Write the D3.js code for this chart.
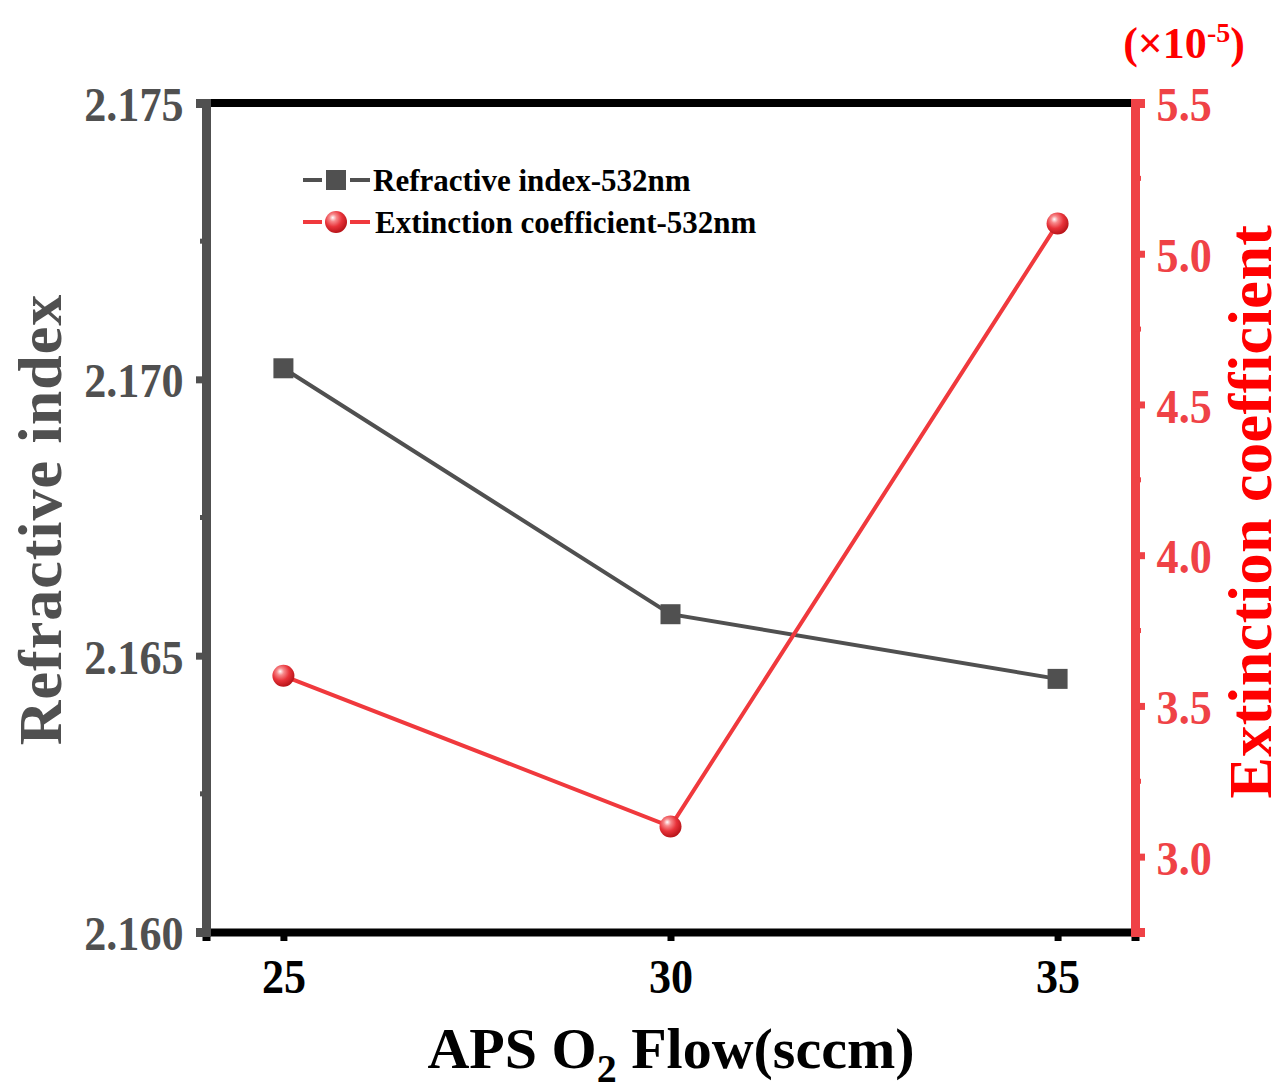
<!DOCTYPE html>
<html>
<head>
<meta charset="utf-8">
<script src="https://cdn.jsdelivr.net/npm/d3@7"></script>
<style>
  body { margin: 0; background: #fff; }
  svg { font-family: "Liberation Serif", "Times New Roman", serif; font-weight: bold; }
</style>
</head>
<body>
<svg width="1279" height="1086"></svg>
<script>
  const flows = [25, 30, 35];
  const refractive = [2.1702, 2.16575, 2.16458];
  const extinction = [3.6, 3.1, 5.1];
  const leftTicks = [2.160, 2.165, 2.170, 2.175];
  const leftMinor = [2.1625, 2.1675, 2.1725];
  const rightTicks = [3.0, 3.5, 4.0, 4.5, 5.0, 5.5];
  const rightMinor = [3.25, 3.75, 4.25, 4.75, 5.25];

  const svg = d3.select('svg');
  const margin = { top: 103, right: 144, bottom: 154, left: 206 };
  const width = +svg.attr('width');
  const height = +svg.attr('height');
  const innerWidth = width - margin.left - margin.right;
  const innerHeight = height - margin.top - margin.bottom;

  const gray = '#505050';
  const red = '#ef4246';
  const lineRed = '#f0393d';

  const xScale = d3.scaleLinear().domain([24, 36]).range([0, innerWidth]);
  const yLeft = d3.scaleLinear().domain([2.160, 2.175]).range([innerHeight, 0]);
  const yRight = d3.scaleLinear().domain([2.75, 5.5]).range([innerHeight, 0]);

  // sphere look for the red markers
  const defs = svg.append('defs');
  const grad = defs.append('radialGradient')
    .attr('id', 'ball')
    .attr('cx', '40%').attr('cy', '35%').attr('r', '65%')
    .attr('fx', '35%').attr('fy', '30%');
  grad.append('stop').attr('offset', '0%').attr('stop-color', '#ffffff');
  grad.append('stop').attr('offset', '25%').attr('stop-color', '#f7898b');
  grad.append('stop').attr('offset', '60%').attr('stop-color', '#e8333a');
  grad.append('stop').attr('offset', '100%').attr('stop-color', '#b81419');

  const g = svg.append('g')
    .attr('transform', `translate(${margin.left}, ${margin.top})`);

  // tick labels are tall and narrow in the original
  const styleTicks = (sel, color) => {
    sel.attr('font-family', 'Liberation Serif').attr('font-weight', 'bold');
    sel.selectAll('.tick text')
      .attr('fill', color)
      .attr('font-size', 49)
      .attr('transform', 'scale(0.9, 1)');
  };

  // top border
  g.append('line')
    .attr('x1', 0).attr('x2', innerWidth)
    .attr('y1', 0).attr('y2', 0)
    .attr('stroke', '#000').attr('stroke-width', 8);

  // x axis
  const xAxisG = g.append('g')
    .attr('transform', `translate(0, ${innerHeight})`)
    .call(d3.axisBottom(xScale).tickValues(flows).tickSize(9).tickPadding(17));
  xAxisG.select('.domain').attr('stroke', '#000').attr('stroke-width', 8);
  xAxisG.selectAll('.tick line').attr('stroke', '#000').attr('stroke-width', 7);
  styleTicks(xAxisG, '#000');
  xAxisG.selectAll('.tick text').attr('x', 0);

  // left axis
  const yLeftG = g.append('g')
    .call(d3.axisLeft(yLeft).tickValues(leftTicks).tickFormat(d3.format('.3f')).tickSize(10).tickPadding(15));
  yLeftG.select('.domain').attr('stroke', gray).attr('stroke-width', 9);
  yLeftG.selectAll('.tick line').attr('stroke', gray).attr('stroke-width', 7);
  styleTicks(yLeftG, gray);
  yLeftG.selectAll('.tick text').attr('dy', '0.36em');
  yLeftG.selectAll('.minor')
    .data(leftMinor)
    .enter().append('line')
    .attr('x1', -6).attr('x2', 0)
    .attr('y1', d => yLeft(d)).attr('y2', d => yLeft(d))
    .attr('stroke', gray).attr('stroke-width', 5);

  // right axis
  const yRightG = g.append('g')
    .attr('transform', `translate(${innerWidth}, 0)`)
    .call(d3.axisRight(yRight).tickValues(rightTicks).tickFormat(d3.format('.1f')).tickSize(10).tickPadding(14));
  yRightG.select('.domain').attr('stroke', red).attr('stroke-width', 9);
  yRightG.selectAll('.tick line').attr('stroke', red).attr('stroke-width', 7);
  styleTicks(yRightG, red);
  yRightG.selectAll('.tick text').attr('dy', '0.36em');
  yRightG.selectAll('.minor')
    .data(rightMinor)
    .enter().append('line')
    .attr('x1', 0).attr('x2', 6)
    .attr('y1', d => yRight(d)).attr('y2', d => yRight(d))
    .attr('stroke', red).attr('stroke-width', 5);

  // series
  const refData = flows.map((f, i) => ({ x: f, y: refractive[i] }));
  const extData = flows.map((f, i) => ({ x: f, y: extinction[i] }));

  g.append('path')
    .datum(refData)
    .attr('fill', 'none').attr('stroke', gray).attr('stroke-width', 4)
    .attr('d', d3.line().x(d => xScale(d.x)).y(d => yLeft(d.y)));

  g.append('path')
    .datum(extData)
    .attr('fill', 'none').attr('stroke', lineRed).attr('stroke-width', 4)
    .attr('d', d3.line().x(d => xScale(d.x)).y(d => yRight(d.y)));

  g.selectAll('.sq').data(refData)
    .enter().append('rect')
    .attr('x', d => xScale(d.x) - 10).attr('y', d => yLeft(d.y) - 10)
    .attr('width', 20).attr('height', 20)
    .attr('fill', gray);

  g.selectAll('.ball').data(extData)
    .enter().append('circle')
    .attr('cx', d => xScale(d.x)).attr('cy', d => yRight(d.y))
    .attr('r', 11)
    .attr('fill', 'url(#ball)');

  // legend: line - marker - line with small gaps
  const leg1 = svg.append('g').attr('transform', 'translate(303, 180)');
  leg1.append('line').attr('x1', 0).attr('x2', 19).attr('y1', 0).attr('y2', 0)
    .attr('stroke', gray).attr('stroke-width', 4);
  leg1.append('line').attr('x1', 47).attr('x2', 67).attr('y1', 0).attr('y2', 0)
    .attr('stroke', gray).attr('stroke-width', 4);
  leg1.append('rect').attr('x', 23).attr('y', -10).attr('width', 20).attr('height', 20).attr('fill', gray);
  leg1.append('text').attr('x', 70).attr('y', 0).attr('dy', '0.35em')
    .attr('font-size', 31).attr('fill', '#000').text('Refractive index-532nm');

  const leg2 = svg.append('g').attr('transform', 'translate(303, 222)');
  leg2.append('line').attr('x1', 0).attr('x2', 19).attr('y1', 0).attr('y2', 0)
    .attr('stroke', lineRed).attr('stroke-width', 4);
  leg2.append('line').attr('x1', 47).attr('x2', 67).attr('y1', 0).attr('y2', 0)
    .attr('stroke', lineRed).attr('stroke-width', 4);
  leg2.append('circle').attr('cx', 33).attr('cy', 0).attr('r', 11).attr('fill', 'url(#ball)');
  leg2.append('text').attr('x', 72).attr('y', 0).attr('dy', '0.35em')
    .attr('font-size', 31).attr('fill', '#000').text('Extinction coefficient-532nm');

  // axis titles
  svg.append('text')
    .attr('transform', `translate(61, ${margin.top + innerHeight / 2 + 2}) rotate(-90)`)
    .attr('text-anchor', 'middle')
    .attr('font-size', 62).attr('fill', gray).attr('letter-spacing', 1)
    .text('Refractive index');

  svg.append('text')
    .attr('transform', `translate(1271, ${margin.top + innerHeight / 2 - 6}) rotate(-90)`)
    .attr('text-anchor', 'middle')
    .attr('font-size', 62).attr('fill', '#ff0000').attr('letter-spacing', 0.5)
    .text('Extinction coefficient');

  const xt = svg.append('text')
    .attr('x', 671).attr('y', 1068)
    .attr('text-anchor', 'middle')
    .attr('font-size', 58).attr('fill', '#000');
  xt.append('tspan').text('APS O');
  xt.append('tspan').attr('font-size', 40).attr('dy', 14).text('2');
  xt.append('tspan').attr('dy', -14).text(' Flow(sccm)');

  const unit = svg.append('text')
    .attr('x', 1184).attr('y', 58)
    .attr('text-anchor', 'middle')
    .attr('font-size', 44).attr('fill', '#ff0000');
  unit.append('tspan').text('(×10');
  unit.append('tspan').attr('font-size', 28).attr('dy', -16).text('-5');
  unit.append('tspan').attr('dy', 16).text(')');
</script>
</body>
</html>
